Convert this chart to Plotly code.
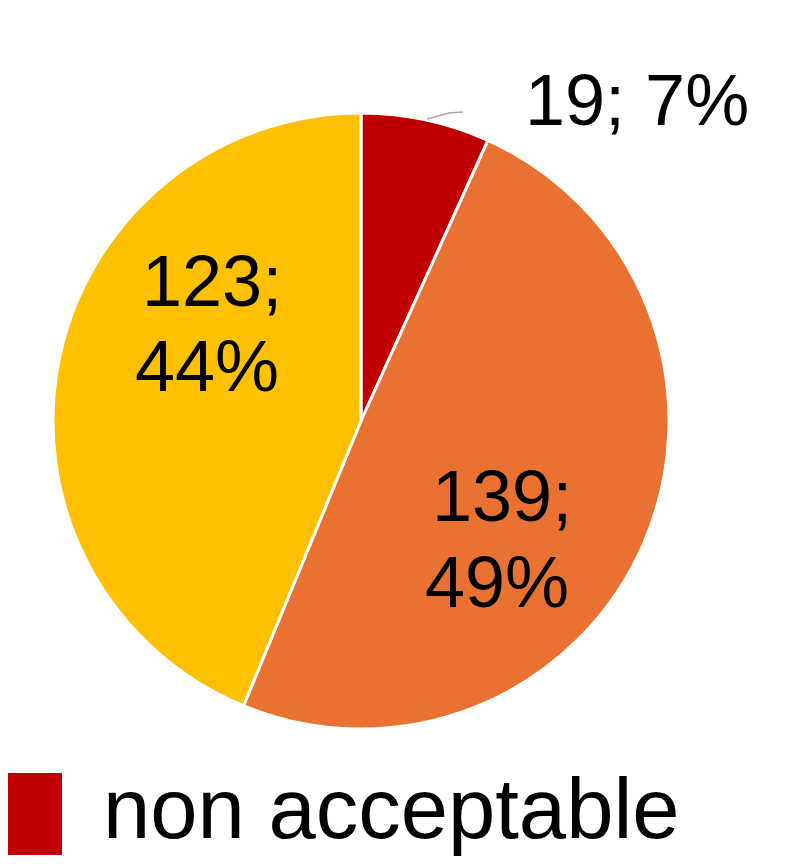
import plotly.graph_objects as go

categories = ["non acceptable", "acceptable", "good"]
values = [19, 139, 123]
colors = ["#C00000", "#E97132", "#FFC000"]

total = sum(values)
pcts = [round(v / total * 100) for v in values]

W, H = 800, 864
OFF = 8  # page body margin offset
cx, cy, r = 361 - OFF, 421 - OFF, 308


def px(x):
    return (x - OFF) / W


def py(y):
    return 1 - (y - OFF) / H


FONT = "Liberation Sans, Arial"

fig = go.Figure(go.Pie(
    labels=categories,
    values=values,
    marker=dict(colors=colors, line=dict(color="white", width=3)),
    sort=False,
    direction="clockwise",
    rotation=0,
    textinfo="none",
    showlegend=False,
    domain=dict(x=[(cx - r) / W, (cx + r) / W], y=[1 - (cy + r) / H, 1 - (cy - r) / H]),
))

# outside label for the small slice
fig.add_annotation(
    x=px(637), y=py(100), xref="paper", yref="paper",
    text=f"{values[0]}; {pcts[0]}%", showarrow=False,
    font=dict(family=FONT, size=72, color="black"),
    xanchor="center", yanchor="middle",
)
# inside labels (two lines each)
label_pos = {1: [(502, 496), (497, 582)], 2: [(212, 281), (207, 366)]}
for i, ((x1, y1), (x2, y2)) in label_pos.items():
    fig.add_annotation(x=px(x1), y=py(y1), xref="paper", yref="paper",
                       text=f"{values[i]};", showarrow=False,
                       font=dict(family=FONT, size=72, color="black"),
                       xanchor="center", yanchor="middle")
    fig.add_annotation(x=px(x2), y=py(y2), xref="paper", yref="paper",
                       text=f"{pcts[i]}%", showarrow=False,
                       font=dict(family=FONT, size=72, color="black"),
                       xanchor="center", yanchor="middle")

# leader line
fig.add_shape(type="path", xref="paper", yref="paper",
              path=f"M {px(427)} {py(119)} L {px(449)} {py(113)} L {px(463)} {py(112)}",
              line=dict(color="#A6A6A6", width=1.5))

# legend entry (first category only visible)
fig.add_shape(type="rect", xref="paper", yref="paper",
              x0=px(0), x1=px(62), y0=py(855), y1=py(773),
              fillcolor=colors[0], line=dict(width=0))
fig.add_annotation(
    x=px(101), y=py(808), xref="paper", yref="paper",
    text=categories[0], showarrow=False,
    font=dict(family=FONT, size=85, color="black"),
    xanchor="left", yanchor="middle",
)

fig.update_layout(
    width=W, height=H,
    margin=dict(l=0, r=0, t=0, b=0),
    paper_bgcolor="white",
    plot_bgcolor="white",
)

fig.write_html("out.html")
